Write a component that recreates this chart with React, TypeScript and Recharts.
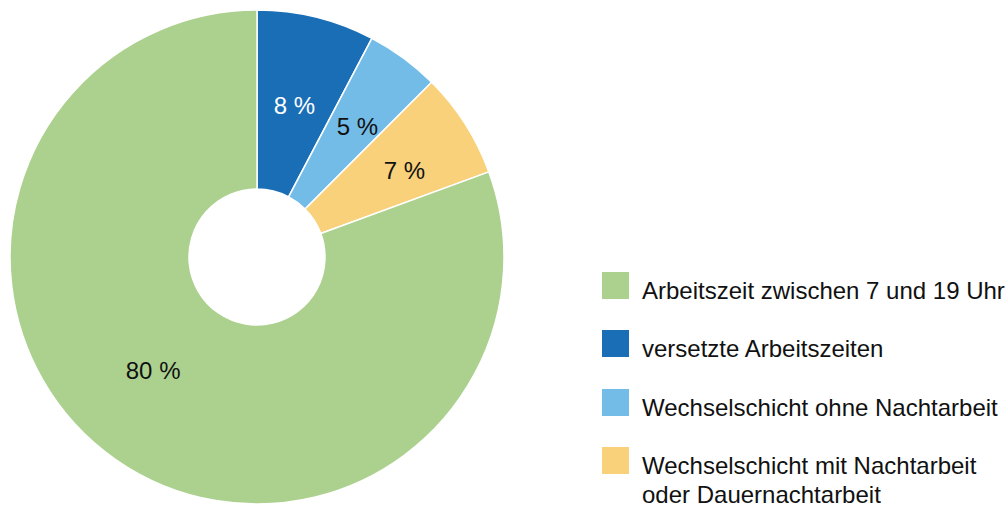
import React from "react";
import { PieChart, Pie, Cell, Legend } from "recharts";

const categories = [
  "versetzte Arbeitszeiten",
  "Wechselschicht ohne Nachtarbeit",
  "Wechselschicht mit Nachtarbeit oder Dauernachtarbeit",
  "Arbeitszeit zwischen 7 und 19 Uhr",
];
const values = [7.7, 4.8, 6.9, 80.6];
const valueLabels = ["8 %", "5 %", "7 %", "80 %"];
const colors = ["#1a6eb6", "#74bce8", "#f8d17a", "#acd18f"];
const labelColors = ["#ffffff", "#111111", "#111111", "#111111"];

const legendOrder = [3, 0, 1, 2];
const legendLines = [
  ["Arbeitszeit zwischen 7 und 19 Uhr"],
  ["versetzte Arbeitszeiten"],
  ["Wechselschicht ohne Nachtarbeit"],
  ["Wechselschicht mit Nachtarbeit", "oder Dauernachtarbeit"],
];

const data = categories.map((name, i) => ({ name, value: values[i] }));

const FONT = "'Liberation Sans', Arial, Helvetica, sans-serif";
const RAD = Math.PI / 180;

const labelRadius = [156, 165, 171, 154];
const labelAngleShift = [0, -1.1, -2.1, -7.5];

const renderLabel = (props: any) => {
  const { cx, cy, midAngle, index } = props;
  const r = labelRadius[index];
  const a = (midAngle + labelAngleShift[index]) * RAD;
  const x = cx + r * Math.cos(-a);
  const y = cy + r * Math.sin(-a);
  return (
    <text
      x={x}
      y={y}
      textAnchor="middle"
      dominantBaseline="central"
      fill={labelColors[index]}
      style={{ fontFamily: FONT, fontSize: 24 }}
    >
      {valueLabels[index]}
    </text>
  );
};

const LegendContent = () => (
  <div style={{ position: "relative", width: 420, height: 240, fontFamily: FONT }}>
    {legendOrder.map((idx, row) => (
      <div key={idx} style={{ position: "absolute", left: 0, top: row * 58.3 }}>
        <div
          style={{
            position: "absolute",
            left: 0,
            top: 0,
            width: 27,
            height: 27,
            background: colors[idx],
          }}
        />
        <div
          style={{
            position: "absolute",
            left: 40,
            top: 4,
            fontSize: 24,
            lineHeight: "29px",
            color: "#111111",
            whiteSpace: "nowrap",
          }}
        >
          {legendLines[row].map((l, k) => (
            <div key={k}>{l}</div>
          ))}
        </div>
      </div>
    ))}
  </div>
);

export default function App() {
  return (
    <div style={{ position: "absolute", left: 0, top: 0, width: 1008, height: 506, background: "#fff" }}>
      <PieChart width={1008} height={506} margin={{ top: 0, right: 0, bottom: 0, left: 0 }}>
        <Pie
          data={data}
          dataKey="value"
          nameKey="name"
          cx={257}
          cy={257}
          innerRadius={68}
          outerRadius={247}
          startAngle={90}
          endAngle={-270}
          stroke="#ffffff"
          strokeWidth={1.5}
          label={renderLabel}
          labelLine={false}
          isAnimationActive={false}
        >
          {data.map((d, i) => (
            <Cell key={d.name} fill={colors[i]} />
          ))}
        </Pie>
        <Legend
          content={<LegendContent />}
          wrapperStyle={{ position: "absolute", left: 602, top: 272, width: 420, height: 240 }}
        />
      </PieChart>
    </div>
  );
}
